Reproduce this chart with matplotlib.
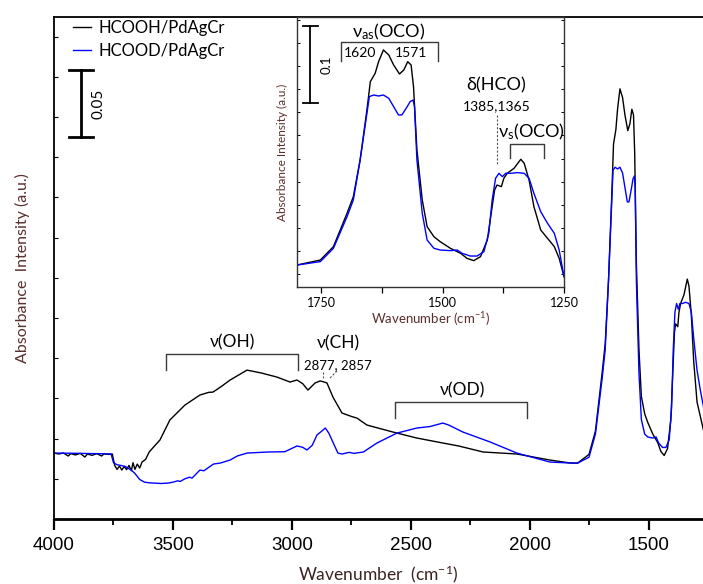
import matplotlib
matplotlib.use('Agg')
from matplotlib import pyplot as plt
from matplotlib.ticker import MultipleLocator, NullFormatter

plt.rcParams['font.family'] = ['Lato', 'DejaVu Sans']
plt.rcParams['mathtext.fontset'] = 'custom'
plt.rcParams['mathtext.rm'] = 'Lato'
plt.rcParams['mathtext.it'] = 'Lato:italic'

# HCOOH/PdAgCr spectrum (wavenumber cm-1, absorbance)
wn_hcooh = [4000, 3980, 3960, 3940, 3930, 3910, 3890, 3870, 3860, 3840, 3820, 3800, 3790,
            3770, 3755, 3745, 3735, 3725, 3715, 3705, 3695, 3685, 3675, 3668, 3660, 3650,
            3640, 3630, 3615, 3600, 3580, 3555, 3513, 3450, 3387, 3350, 3332, 3300, 3260,
            3189, 3130, 3063, 3008, 2979, 2955, 2933, 2903, 2882, 2870, 2853, 2828, 2790,
            2750, 2727, 2685, 2576, 2475, 2366, 2300, 2197, 2055, 1916, 1832,
            1800, 1752, 1725, 1697, 1684, 1670, 1656, 1649, 1639, 1632, 1622, 1611, 1601,
            1589, 1580, 1572, 1565, 1560, 1553, 1542, 1532, 1518, 1505, 1484, 1463, 1450,
            1436, 1422, 1408, 1398, 1393, 1388, 1379, 1374, 1367, 1353, 1339, 1332, 1322,
            1312, 1298, 1284, 1270, 1260, 1250]
abs_hcooh = [0.0492, 0.0485, 0.0492, 0.0470, 0.0488, 0.0478, 0.0490, 0.0462, 0.0485, 0.0475,
             0.0488, 0.0470, 0.0486, 0.0482, 0.0485, 0.0400, 0.0370, 0.0395, 0.0365, 0.0392,
             0.0368, 0.0400, 0.0360, 0.0420, 0.0370, 0.0410, 0.0380, 0.0425, 0.0445, 0.0500,
             0.0540, 0.0589, 0.0739, 0.0850, 0.0925, 0.0945, 0.0947, 0.0985, 0.1037, 0.1111,
             0.1090, 0.1059, 0.1022, 0.1037, 0.1010, 0.0962, 0.1015, 0.1030, 0.1025, 0.1015,
             0.0910, 0.0791, 0.0765, 0.0753, 0.0701, 0.0649, 0.0604, 0.0567, 0.0545, 0.0500,
             0.0485, 0.0440, 0.0418,
             0.0417, 0.0482, 0.0656, 0.1088, 0.1305, 0.1781, 0.2430, 0.2798, 0.2907, 0.3058,
             0.3210, 0.3145, 0.3015, 0.2898, 0.2950, 0.3058, 0.3015, 0.2733, 0.1911, 0.1262,
             0.0915, 0.0785, 0.0720, 0.0634, 0.0569, 0.0504, 0.0474, 0.0526, 0.0742, 0.1175,
             0.1391, 0.1456, 0.1435, 0.1543, 0.1608, 0.1673, 0.1790, 0.1738, 0.1521, 0.1175,
             0.0872, 0.0764, 0.0656, 0.0504, 0.0266]

# HCOOD/PdAgCr spectrum
wn_hcood = [4000, 3900, 3800, 3760, 3750, 3735, 3720, 3700, 3690, 3675, 3660, 3640, 3620,
            3600, 3550, 3520, 3500, 3480, 3470, 3450, 3430, 3420, 3387, 3370, 3330, 3300,
            3260, 3230, 3189, 3100, 3030, 2979, 2955, 2937, 2915, 2895, 2872, 2860, 2845,
            2832, 2807, 2790, 2760, 2740, 2700, 2643, 2559, 2475, 2420, 2366, 2340, 2282,
            2168, 2055, 1916, 1832,
            1800, 1752, 1725, 1697, 1684, 1670, 1656, 1651, 1642, 1632, 1622, 1611, 1601,
            1591, 1584, 1573, 1567, 1561, 1558, 1553, 1542, 1532, 1518, 1505, 1484, 1470,
            1460, 1443, 1429, 1415, 1405, 1398, 1391, 1384, 1377, 1370, 1360, 1346, 1332,
            1322, 1312, 1298, 1284, 1270, 1260, 1250]
abs_hcood = [0.0492, 0.0490, 0.0487, 0.0485, 0.0420, 0.0405, 0.0400, 0.0392, 0.0380, 0.0365,
             0.0340, 0.0295, 0.0275, 0.0270, 0.0265, 0.0268, 0.0275, 0.0285, 0.0280, 0.0300,
             0.0312, 0.0305, 0.0365, 0.0360, 0.0410, 0.0418, 0.0440, 0.0470, 0.0492, 0.0500,
             0.0502, 0.0545, 0.0535, 0.0515, 0.0550, 0.0627, 0.0660, 0.0679, 0.0640, 0.0589,
             0.0492, 0.0485, 0.0497, 0.0490, 0.0500, 0.0567, 0.0641, 0.0679, 0.0690, 0.0716,
             0.0700, 0.0649, 0.0575, 0.0492, 0.0425, 0.0418,
             0.0417, 0.0461, 0.0634, 0.1045, 0.1262, 0.1781, 0.2387, 0.2604, 0.2625, 0.2612,
             0.2625, 0.2582, 0.2474, 0.2366, 0.2366, 0.2474, 0.2539, 0.2560, 0.2474, 0.1781,
             0.1088, 0.0742, 0.0634, 0.0612, 0.0604, 0.0612, 0.0569, 0.0534, 0.0534, 0.0591,
             0.0829, 0.1262, 0.1543, 0.1608, 0.1565, 0.1608, 0.1608, 0.1617, 0.1608, 0.1543,
             0.1348, 0.1110, 0.0959, 0.0829, 0.0612, 0.0266]

labels = ['HCOOH/PdAgCr', 'HCOOD/PdAgCr']
colors = ['black', '#0000ff']

bracket_color = '#3a3a3a'
brown = '#5a2e2e'

fig = plt.figure(figsize=(7.03, 5.84), dpi=100)
ax = fig.add_axes([0.0768, 0.1113, 0.9232, 0.8596])

ax.plot(wn_hcooh, abs_hcooh, color=colors[0], lw=1.0, label=labels[0])
ax.plot(wn_hcood, abs_hcood, color=colors[1], lw=1.0, label=labels[1])

ax.set_xlim(4000, 1273)
ax.set_ylim(0, 0.3746)
ax.xaxis.set_major_locator(MultipleLocator(500))
ax.xaxis.set_minor_locator(MultipleLocator(250))
ax.tick_params(axis='x', which='major', direction='out', length=8, width=1.6, labelsize=13.5, pad=5)
ax.tick_params(axis='x', which='minor', direction='out', length=4, width=1.3)
for t in ax.get_xticklabels():
    t.set_fontfamily('Liberation Sans')
ax.yaxis.set_major_locator(MultipleLocator(0.03))
ax.yaxis.set_major_formatter(NullFormatter())
ax.tick_params(axis='y', direction='in', length=3, width=0.8)
ax.spines['right'].set_visible(False)
ax.spines['bottom'].set_linewidth(2.0)
ax.spines['left'].set_linewidth(1.3)
ax.spines['top'].set_linewidth(1.3)

ax.set_xlabel('Wavenumber  (cm$^{-1}$)', fontsize=12.5, color='#3b2222', labelpad=7)
ax.set_ylabel('Absorbance  Intensity (a.u.)', fontsize=11.5, color=brown, labelpad=14)

ax.legend(loc='upper left', bbox_to_anchor=(0.029, 0.995), frameon=False, fontsize=12,
          handlelength=1.1, handletextpad=0.45, borderpad=0, borderaxespad=0, labelspacing=0.45)

# scale bar 0.05
ax.plot([3887, 3887], [0.285, 0.335], color='black', lw=2)
ax.plot([3937, 3836], [0.335, 0.335], color='black', lw=2)
ax.plot([3937, 3836], [0.285, 0.285], color='black', lw=2)
ax.text(3811, 0.310, '0.05', rotation=90, ha='center', va='center', fontsize=11)

# band assignments
ax.plot([3529, 3529, 2975, 2975], [0.1112, 0.1231, 0.1231, 0.1112], color=bracket_color, lw=1)
ax.text(3252, 0.1320, 'ν(OH)', ha='center', va='center', fontsize=12.5)
ax.text(2807, 0.1313, 'ν(CH)', ha='center', va='center', fontsize=12.5)
ax.text(2807, 0.1149, '2877, 2857', ha='center', va='center', fontsize=9.5)
ax.plot([2870, 2870], [0.1097, 0.1052], color='#555555', lw=0.8, ls=(0, (2, 1.5)))
ax.plot([2840, 2807], [0.1052, 0.1112], color='#555555', lw=0.8, ls=(0, (2, 1.5)))
ax.plot([2567, 2567, 2013, 2013], [0.0754, 0.0873, 0.0873, 0.0754], color=bracket_color, lw=1)
ax.text(2282, 0.0962, 'ν(OD)', ha='center', va='center', fontsize=12.5)

# inset: 1800-1250 region
ins = fig.add_axes([0.4225, 0.5086, 0.3798, 0.4623])
ins.plot(wn_hcooh, abs_hcooh, color=colors[0], lw=1.0)
ins.plot(wn_hcood, abs_hcood, color=colors[1], lw=1.0)
ins.set_xlim(1800, 1250)
ins.set_ylim(0.0132, 0.3638)
ins.xaxis.set_major_locator(MultipleLocator(250))
ins.xaxis.set_minor_locator(MultipleLocator(125))
ins.tick_params(axis='x', which='both', direction='out', length=4, width=0.9, labelsize=9, pad=3)
ins.yaxis.set_major_locator(MultipleLocator(0.03))
ins.yaxis.set_major_formatter(NullFormatter())
ins.tick_params(axis='y', direction='in', length=2, width=0.7, left=True, right=True)
for s in ins.spines.values():
    s.set_linewidth(1.0)
    s.set_color('#333333')
ins.set_xlabel('Wavenumber (cm$^{-1}$)', fontsize=9.5, color=brown, labelpad=1)
ins.set_ylabel('Absorbance Intensity (a.u.)', fontsize=8.5, color=brown, labelpad=3)

# scale bar 0.1
ins.plot([1773, 1773], [0.2522, 0.3522], color='black', lw=1.3)
ins.plot([1788, 1757], [0.3522, 0.3522], color='black', lw=1.3)
ins.plot([1788, 1757], [0.2522, 0.2522], color='black', lw=1.3)
ins.text(1740, 0.3022, '0.1', rotation=90, ha='center', va='center', fontsize=9.5)

ins.text(1612, 0.3444, 'ν$_{\\mathrm{as}}$(OCO)', ha='center', va='center', fontsize=13)
ins.plot([1709, 1709, 1509, 1509], [0.3067, 0.3314, 0.3314, 0.3067], color=bracket_color, lw=1)
ins.text(1670, 0.3171, '1620', ha='center', va='center', fontsize=10)
ins.text(1566, 0.3171, '1571', ha='center', va='center', fontsize=10)

ins.text(1389, 0.2755, 'δ(HCO)', ha='center', va='center', fontsize=13)
ins.text(1389, 0.2483, '1385,1365', ha='center', va='center', fontsize=10)
ins.plot([1389, 1389], [0.2366, 0.1716], color='#555555', lw=0.8, ls=(0, (2, 1.5)))

ins.text(1316, 0.2145, 'ν$_{\\mathrm{s}}$(OCO)', ha='center', va='center', fontsize=13)
ins.plot([1362, 1362, 1292, 1292], [0.1807, 0.1989, 0.1989, 0.1807], color=bracket_color, lw=1)

fig.savefig('out.png', dpi=100)
